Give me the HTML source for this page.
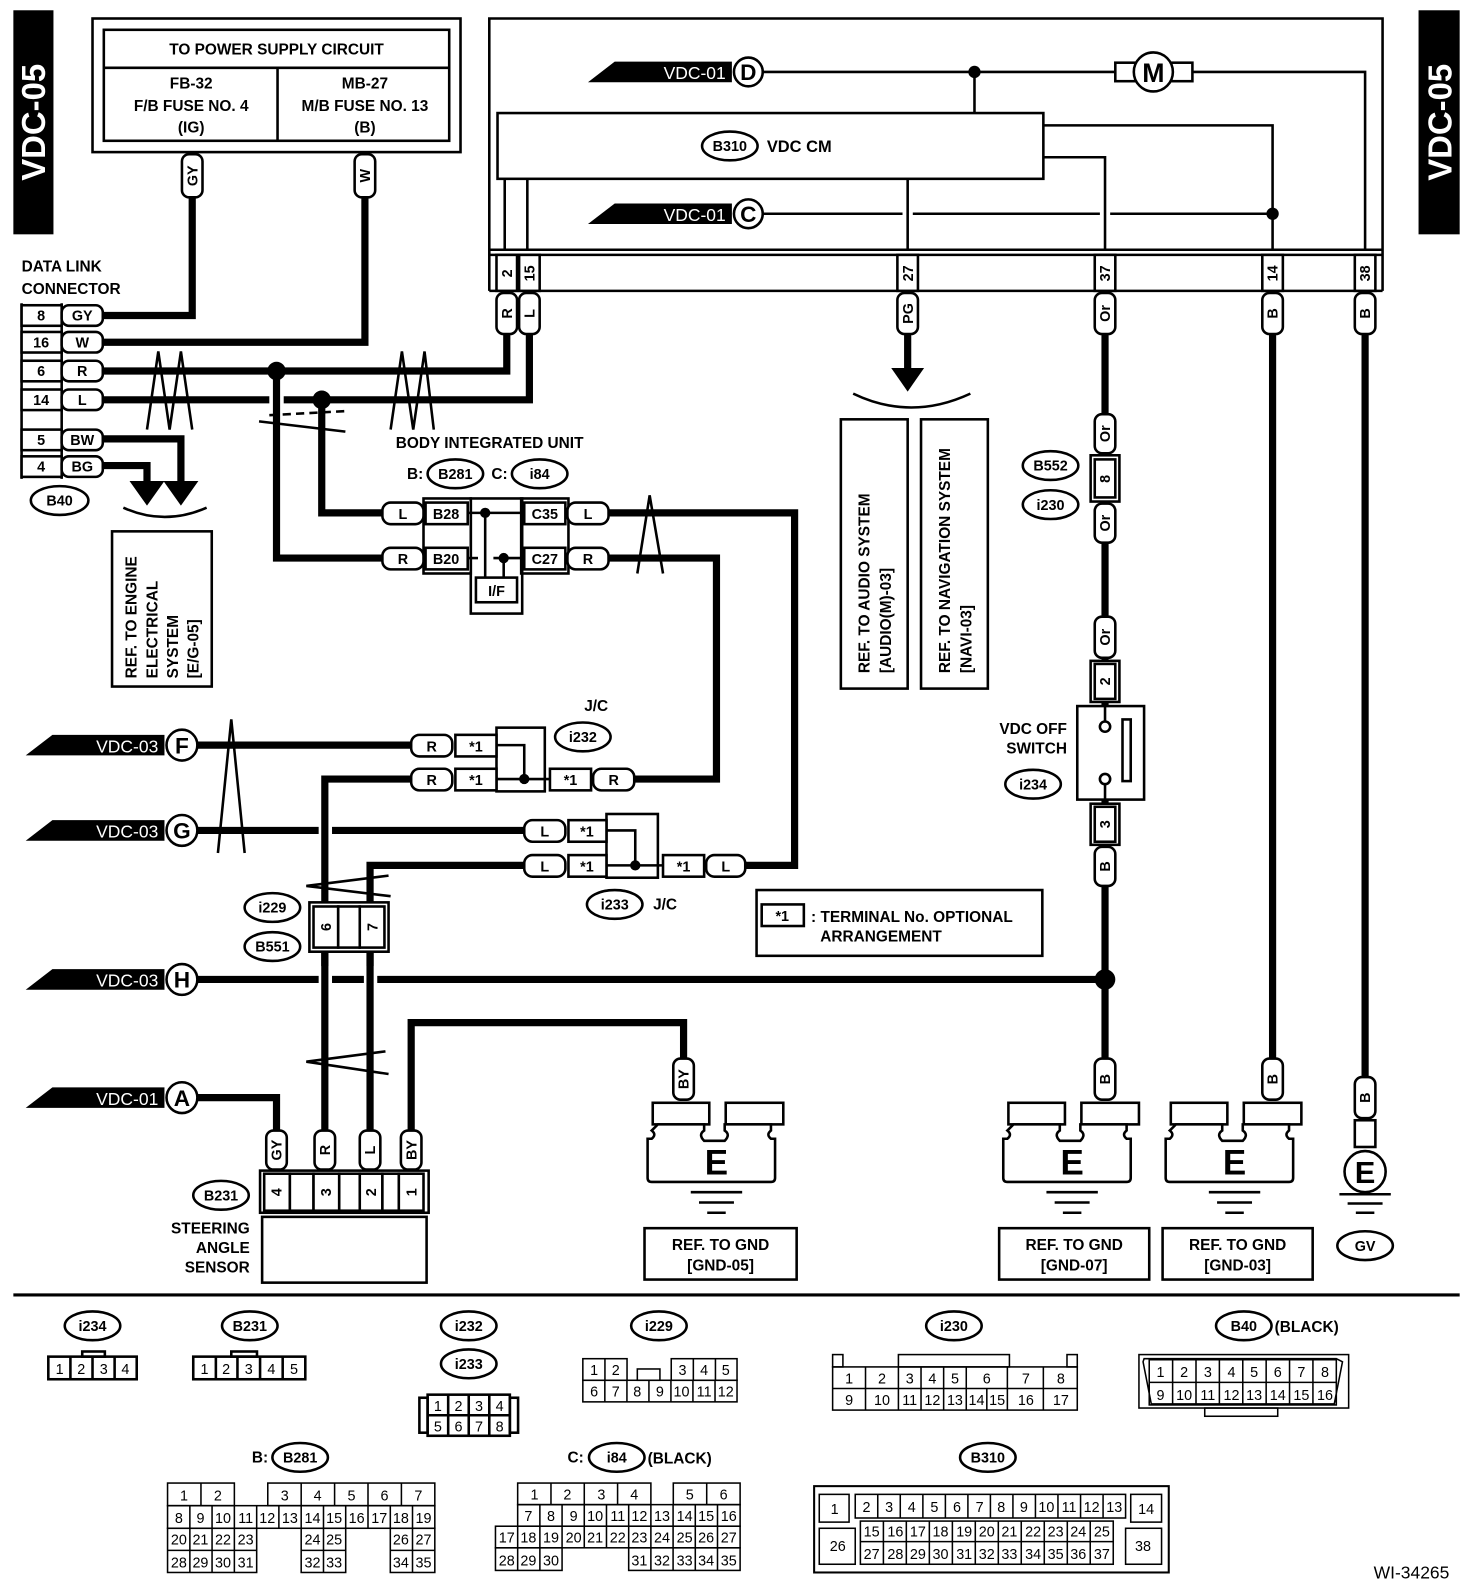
<!DOCTYPE html>
<html><head><meta charset="utf-8"><style>
html,body{margin:0;padding:0;background:#fff}
svg{display:block}
text{font-family:"Liberation Sans",Arial,sans-serif;fill:#000}
.b{font-weight:bold}
.w{fill:#fff}
</style></head><body>
<svg width="1472" height="1592" viewBox="0 0 1432 1549" preserveAspectRatio="none" xmlns="http://www.w3.org/2000/svg">
<defs>
<style>
.thin{stroke:#000;stroke-width:2.5;fill:none}
.wire{stroke:#000;stroke-width:7;fill:none}
.bx{stroke:#000;stroke-width:2.5;fill:#fff}
.cap{stroke:#000;stroke-width:2.5;fill:#fff}
.t13{font-size:14px;font-weight:bold}
.c{font-size:14px}
</style>
</defs>

<!-- side labels -->
<rect x="13" y="10" width="39" height="218" fill="#000"/>
<text class="b w" font-size="32" transform="translate(44,119) rotate(-90)" text-anchor="middle">VDC-05</text>
<rect x="1380" y="10" width="40" height="218" fill="#000"/>
<text class="b w" font-size="32" transform="translate(1412,119) rotate(-90)" text-anchor="middle">VDC-05</text>

<!-- power supply box -->
<rect x="90" y="18" width="358" height="130" class="thin"/>
<rect x="101" y="29" width="336" height="108" class="thin"/>
<line x1="101" y1="66" x2="437" y2="66" class="thin"/>
<line x1="270" y1="66" x2="270" y2="137" class="thin"/>
<text class="b" font-size="15" x="269" y="53" text-anchor="middle">TO POWER SUPPLY CIRCUIT</text>
<text class="b" font-size="15" x="186" y="86" text-anchor="middle">FB-32</text>
<text class="b" font-size="15" x="186" y="108" text-anchor="middle">F/B FUSE NO. 4</text>
<text class="b" font-size="15" x="186" y="129" text-anchor="middle">(IG)</text>
<text class="b" font-size="15" x="355" y="86" text-anchor="middle">MB-27</text>
<text class="b" font-size="15" x="355" y="108" text-anchor="middle">M/B FUSE NO. 13</text>
<text class="b" font-size="15" x="355" y="129" text-anchor="middle">(B)</text>

<!-- GY / W wires -->
<polyline points="187,192 187,307 100,307" class="wire"/>
<polyline points="355,192 355,333 100,333" class="wire"/>
<rect x="177" y="150" width="20" height="42" rx="7" class="cap"/>
<text class="t13" transform="translate(192,171) rotate(-90)" text-anchor="middle">GY</text>
<rect x="345" y="150" width="20" height="42" rx="7" class="cap"/>
<text class="t13" transform="translate(360,171) rotate(-90)" text-anchor="middle">W</text>

<!-- data link connector -->
<text class="b" font-size="15" x="21" y="264">DATA LINK</text>
<text class="b" font-size="15" x="21" y="286">CONNECTOR</text>
<line x1="21" y1="295" x2="21" y2="466" class="thin"/>
<line x1="60" y1="295" x2="60" y2="466" class="thin"/>
<rect x="21" y="297" width="39" height="20" class="bx"/><text class="t13" x="40" y="312" text-anchor="middle">8</text>
<rect x="21" y="323" width="39" height="20" class="bx"/><text class="t13" x="40" y="338" text-anchor="middle">16</text>
<rect x="21" y="351" width="39" height="20" class="bx"/><text class="t13" x="40" y="366" text-anchor="middle">6</text>
<rect x="21" y="379" width="39" height="20" class="bx"/><text class="t13" x="40" y="394" text-anchor="middle">14</text>
<rect x="21" y="418" width="39" height="20" class="bx"/><text class="t13" x="40" y="433" text-anchor="middle">5</text>
<rect x="21" y="444" width="39" height="20" class="bx"/><text class="t13" x="40" y="459" text-anchor="middle">4</text>

<!-- R,L,BW,BG wires -->
<polyline points="100,361 493,361 493,325" class="wire"/>
<polyline points="100,389 262,389" class="wire"/>
<polyline points="276,389 515,389 515,325" class="wire"/>
<polyline points="269,361 269,543 372,543" class="wire"/>
<polyline points="313,389 313,499 372,499" class="wire"/>
<circle cx="269" cy="361" r="9"/>
<circle cx="313" cy="389" r="9"/>
<polyline points="100,427 176,427 176,470" class="wire"/>
<polyline points="100,453 143,453 143,470" class="wire"/>
<polygon points="126,468 160,468 143,492"/>
<polygon points="159,468 193,468 176,492"/>
<path d="M120,494 Q160,512 201,494" class="thin"/>

<rect x="60" y="297" width="40" height="20" rx="7" class="cap"/><text class="t13" x="80" y="312" text-anchor="middle">GY</text>
<rect x="60" y="323" width="40" height="20" rx="7" class="cap"/><text class="t13" x="80" y="338" text-anchor="middle">W</text>
<rect x="60" y="351" width="40" height="20" rx="7" class="cap"/><text class="t13" x="80" y="366" text-anchor="middle">R</text>
<rect x="60" y="379" width="40" height="20" rx="7" class="cap"/><text class="t13" x="80" y="394" text-anchor="middle">L</text>
<rect x="60" y="418" width="40" height="20" rx="7" class="cap"/><text class="t13" x="80" y="433" text-anchor="middle">BW</text>
<rect x="60" y="444" width="40" height="20" rx="7" class="cap"/><text class="t13" x="80" y="459" text-anchor="middle">BG</text>
<ellipse cx="58" cy="487" rx="28" ry="14" class="thin"/><text class="t13" x="58" y="492" text-anchor="middle">B40</text>

<!-- twists -->
<polyline points="143,418 154,342 165,418 176,342 187,418" class="thin" stroke-width="2"/>
<polyline points="380,418 391,342 402,418 413,342 422,418" class="thin" stroke-width="2"/>
<line x1="252" y1="410" x2="336" y2="420" class="thin" stroke-width="2"/>
<line x1="262" y1="404" x2="336" y2="400" class="thin" stroke-width="2" stroke-dasharray="8,5"/>

<!-- engine ref -->
<rect x="109" y="517" width="97" height="151" class="thin"/>
<text class="b" font-size="15" transform="translate(133,660) rotate(-90)">REF. TO ENGINE</text>
<text class="b" font-size="15" transform="translate(153,660) rotate(-90)">ELECTRICAL</text>
<text class="b" font-size="15" transform="translate(173,660) rotate(-90)">SYSTEM</text>
<text class="b" font-size="15" transform="translate(193,660) rotate(-90)">[E/G-05]</text>

<!-- VDC CM -->
<polyline points="476,283 476,18 1345,18 1345,283" class="thin"/>
<line x1="476" y1="243" x2="1345" y2="243" class="thin"/>
<line x1="476" y1="248" x2="1345" y2="248" class="thin"/>
<line x1="476" y1="283" x2="1345" y2="283" class="thin"/>
<rect x="484" y="110" width="531" height="64" class="thin"/>
<ellipse cx="710" cy="142" rx="27" ry="14" class="thin"/><text class="t13" x="710" y="147" text-anchor="middle">B310</text>
<text class="b" font-size="16" x="746" y="148">VDC CM</text>

<polygon points="572,80 598,60 712,60 712,80"/>
<text class="w" font-size="17" x="706" y="77" text-anchor="end">VDC-01</text>
<circle cx="728" cy="70" r="14" class="bx"/><text class="b" font-size="22" x="728" y="78" text-anchor="middle">D</text>
<line x1="742" y1="70" x2="1085" y2="70" class="thin"/>
<circle cx="948" cy="70" r="6"/>
<line x1="948" y1="70" x2="948" y2="110" class="thin"/>
<rect x="1085" y="61" width="75" height="18" class="bx"/>
<circle cx="1122" cy="70" r="19" class="bx"/><text class="b" font-size="26" x="1122" y="80" text-anchor="middle">M</text>
<polyline points="1160,70 1328,70 1328,243" class="thin"/>
<polyline points="1015,122 1238,122 1238,243" class="thin"/>
<polyline points="1015,153 1075,153 1075,243" class="thin"/>

<polygon points="572,218 598,198 712,198 712,218"/>
<text class="w" font-size="17" x="706" y="215" text-anchor="end">VDC-01</text>
<circle cx="728" cy="208" r="14" class="bx"/><text class="b" font-size="22" x="728" y="216" text-anchor="middle">C</text>
<line x1="742" y1="208" x2="878" y2="208" class="thin"/>
<line x1="888" y1="208" x2="1070" y2="208" class="thin"/>
<line x1="1080" y1="208" x2="1238" y2="208" class="thin"/>
<circle cx="1238" cy="208" r="6"/>
<line x1="883" y1="174" x2="883" y2="243" class="thin"/>
<line x1="491" y1="174" x2="491" y2="243" class="thin"/>
<line x1="513" y1="174" x2="513" y2="243" class="thin"/>

<!-- pins -->
<rect x="483" y="248" width="20" height="35" class="bx"/><text class="t13" transform="translate(498,266) rotate(-90)" text-anchor="middle">2</text>
<rect x="505" y="248" width="20" height="35" class="bx"/><text class="t13" transform="translate(520,266) rotate(-90)" text-anchor="middle">15</text>
<rect x="873" y="248" width="20" height="35" class="bx"/><text class="t13" transform="translate(888,266) rotate(-90)" text-anchor="middle">27</text>
<rect x="1065" y="248" width="20" height="35" class="bx"/><text class="t13" transform="translate(1080,266) rotate(-90)" text-anchor="middle">37</text>
<rect x="1228" y="248" width="20" height="35" class="bx"/><text class="t13" transform="translate(1243,266) rotate(-90)" text-anchor="middle">14</text>
<rect x="1318" y="248" width="20" height="35" class="bx"/><text class="t13" transform="translate(1333,266) rotate(-90)" text-anchor="middle">38</text>

<!-- B wires right -->
<line x1="1238" y1="325" x2="1238" y2="1030" class="wire"/>
<line x1="1328" y1="325" x2="1328" y2="1048" class="wire"/>

<!-- PG -->
<line x1="883" y1="325" x2="883" y2="362" class="wire"/>
<polygon points="867,358 899,358 883,381"/>
<path d="M830,383 Q886,410 944,383" class="thin"/>
<rect x="818" y="408" width="65" height="262" class="thin"/>
<text class="b" font-size="15" transform="translate(846,655) rotate(-90)">REF. TO AUDIO SYSTEM</text>
<text class="b" font-size="15" transform="translate(867,655) rotate(-90)">[AUDIO(M)-03]</text>
<rect x="896" y="408" width="65" height="262" class="thin"/>
<text class="b" font-size="15" transform="translate(924,655) rotate(-90)">REF. TO NAVIGATION SYSTEM</text>
<text class="b" font-size="15" transform="translate(945,655) rotate(-90)">[NAVI-03]</text>

<!-- Or path -->
<line x1="1075" y1="325" x2="1075" y2="1030" class="wire"/>
<rect x="1061" y="443" width="28" height="45" class="bx"/>
<rect x="1065" y="447" width="20" height="37" class="bx"/><text class="t13" transform="translate(1080,466) rotate(-90)" text-anchor="middle">8</text>
<rect x="1061" y="643" width="28" height="40" class="bx"/>
<rect x="1065" y="646" width="20" height="34" class="bx"/><text class="t13" transform="translate(1080,663) rotate(-90)" text-anchor="middle">2</text>
<rect x="1048" y="687" width="65" height="91" class="bx"/>
<line x1="1075" y1="687" x2="1075" y2="702" class="thin"/>
<circle cx="1075" cy="707" r="5" class="bx"/>
<line x1="1075" y1="763" x2="1075" y2="778" class="thin"/>
<circle cx="1075" cy="758" r="5" class="bx"/>
<rect x="1092" y="700" width="8" height="60" class="thin"/>
<rect x="1061" y="782" width="28" height="40" class="bx"/>
<rect x="1065" y="785" width="20" height="34" class="bx"/><text class="t13" transform="translate(1080,802) rotate(-90)" text-anchor="middle">3</text>
<circle cx="1075" cy="953" r="10"/>
<ellipse cx="1022" cy="453" rx="27" ry="14" class="thin"/><text class="t13" x="1022" y="458" text-anchor="middle">B552</text>
<ellipse cx="1022" cy="491" rx="27" ry="14" class="thin"/><text class="t13" x="1022" y="496" text-anchor="middle">i230</text>
<text class="b" font-size="15" x="1038" y="714" text-anchor="end">VDC OFF</text>
<text class="b" font-size="15" x="1038" y="733" text-anchor="end">SWITCH</text>
<ellipse cx="1005" cy="763" rx="27" ry="14" class="thin"/><text class="t13" x="1005" y="768" text-anchor="middle">i234</text>

<!-- vertical capsules (after wires) -->
<g>
<rect x="483" y="285" width="20" height="40" rx="7" class="cap"/><text class="t13" transform="translate(498,305) rotate(-90)" text-anchor="middle">R</text>
<rect x="505" y="285" width="20" height="40" rx="7" class="cap"/><text class="t13" transform="translate(520,305) rotate(-90)" text-anchor="middle">L</text>
<rect x="873" y="285" width="20" height="40" rx="7" class="cap"/><text class="t13" transform="translate(888,305) rotate(-90)" text-anchor="middle">PG</text>
<rect x="1065" y="285" width="20" height="40" rx="7" class="cap"/><text class="t13" transform="translate(1080,305) rotate(-90)" text-anchor="middle">Or</text>
<rect x="1228" y="285" width="20" height="40" rx="7" class="cap"/><text class="t13" transform="translate(1243,305) rotate(-90)" text-anchor="middle">B</text>
<rect x="1318" y="285" width="20" height="40" rx="7" class="cap"/><text class="t13" transform="translate(1333,305) rotate(-90)" text-anchor="middle">B</text>
<rect x="1065" y="403" width="20" height="38" rx="7" class="cap"/><text class="t13" transform="translate(1080,422) rotate(-90)" text-anchor="middle">Or</text>
<rect x="1065" y="490" width="20" height="38" rx="7" class="cap"/><text class="t13" transform="translate(1080,509) rotate(-90)" text-anchor="middle">Or</text>
<rect x="1065" y="600" width="20" height="40" rx="7" class="cap"/><text class="t13" transform="translate(1080,620) rotate(-90)" text-anchor="middle">Or</text>
<rect x="1065" y="824" width="20" height="38" rx="7" class="cap"/><text class="t13" transform="translate(1080,843) rotate(-90)" text-anchor="middle">B</text>
<rect x="1065" y="1030" width="20" height="40" rx="7" class="cap"/><text class="t13" transform="translate(1080,1050) rotate(-90)" text-anchor="middle">B</text>
<rect x="1228" y="1030" width="20" height="40" rx="7" class="cap"/><text class="t13" transform="translate(1243,1050) rotate(-90)" text-anchor="middle">B</text>
<rect x="1318" y="1048" width="20" height="40" rx="7" class="cap"/><text class="t13" transform="translate(1333,1068) rotate(-90)" text-anchor="middle">B</text>
</g>

<!-- body integrated unit -->
<text class="b" font-size="15" x="385" y="436">BODY INTEGRATED UNIT</text>
<text class="b" font-size="15" x="396" y="466">B:</text>
<ellipse cx="443" cy="461" rx="27" ry="14" class="thin"/><text class="t13" x="443" y="466" text-anchor="middle">B281</text>
<text class="b" font-size="15" x="478" y="466">C:</text>
<ellipse cx="525" cy="461" rx="27" ry="14" class="thin"/><text class="t13" x="525" y="466" text-anchor="middle">i84</text>
<polyline points="592,499 773,499 773,842 725,842" class="wire"/>
<polyline points="592,543 697,543 697,758 617,758" class="wire"/>
<polyline points="620,558 632,482 645,558" class="thin" stroke-width="2"/>
<rect x="412" y="485" width="46" height="73" class="thin"/>
<rect x="507" y="485" width="46" height="73" class="thin"/>
<rect x="458" y="485" width="50" height="112" class="thin"/>
<rect x="414" y="489" width="41" height="21" class="bx"/><text class="t13" x="434" y="505" text-anchor="middle">B28</text>
<rect x="414" y="533" width="41" height="21" class="bx"/><text class="t13" x="434" y="549" text-anchor="middle">B20</text>
<rect x="510" y="489" width="40" height="21" class="bx"/><text class="t13" x="530" y="505" text-anchor="middle">C35</text>
<rect x="510" y="533" width="40" height="21" class="bx"/><text class="t13" x="530" y="549" text-anchor="middle">C27</text>
<line x1="455" y1="499" x2="510" y2="499" class="thin"/>
<line x1="455" y1="543" x2="465" y2="543" class="thin"/>
<line x1="480" y1="543" x2="510" y2="543" class="thin"/>
<line x1="472" y1="499" x2="472" y2="562" class="thin"/>
<line x1="490" y1="543" x2="490" y2="562" class="thin"/>
<circle cx="472" cy="499" r="5"/><circle cx="490" cy="543" r="5"/>
<rect x="463" y="562" width="40" height="24" class="bx"/><text class="t13" x="483" y="580" text-anchor="middle">I/F</text>
<rect x="372" y="489" width="40" height="21" rx="8" class="cap"/><text class="t13" x="392" y="505" text-anchor="middle">L</text>
<rect x="372" y="533" width="40" height="21" rx="8" class="cap"/><text class="t13" x="392" y="549" text-anchor="middle">R</text>
<rect x="552" y="489" width="40" height="21" rx="8" class="cap"/><text class="t13" x="572" y="505" text-anchor="middle">L</text>
<rect x="552" y="533" width="40" height="21" rx="8" class="cap"/><text class="t13" x="572" y="549" text-anchor="middle">R</text>

<!-- VDC-03 F/G/H and VDC-01 A -->
<polygon points="25,735 51,715 160,715 160,735"/><text class="w" font-size="17" x="154" y="732" text-anchor="end">VDC-03</text>
<circle cx="177" cy="725" r="15" class="bx"/><text class="b" font-size="22" x="177" y="733" text-anchor="middle">F</text>
<line x1="192" y1="725" x2="400" y2="725" class="wire"/>
<polygon points="25,818 51,798 160,798 160,818"/><text class="w" font-size="17" x="154" y="815" text-anchor="end">VDC-03</text>
<circle cx="177" cy="808" r="15" class="bx"/><text class="b" font-size="22" x="177" y="816" text-anchor="middle">G</text>
<line x1="192" y1="808" x2="310" y2="808" class="wire"/>
<line x1="323" y1="808" x2="510" y2="808" class="wire"/>
<polygon points="25,963 51,943 160,943 160,963"/><text class="w" font-size="17" x="154" y="960" text-anchor="end">VDC-03</text>
<circle cx="177" cy="953" r="15" class="bx"/><text class="b" font-size="22" x="177" y="961" text-anchor="middle">H</text>
<line x1="192" y1="953" x2="310" y2="953" class="wire"/>
<line x1="323" y1="953" x2="354" y2="953" class="wire"/>
<line x1="367" y1="953" x2="1075" y2="953" class="wire"/>
<polygon points="25,1078 51,1058 160,1058 160,1078"/><text class="w" font-size="17" x="154" y="1075" text-anchor="end">VDC-01</text>
<circle cx="177" cy="1068" r="15" class="bx"/><text class="b" font-size="22" x="177" y="1076" text-anchor="middle">A</text>
<polyline points="192,1068 269,1068 269,1100" class="wire"/>
<polyline points="212,830 225,700 238,830" class="thin" stroke-width="2"/>

<!-- R / L down -->
<polyline points="400,758 316,758 316,1100" class="wire"/>
<polyline points="510,842 360,842 360,1100" class="wire"/>
<polyline points="400,1100 400,995 665,995 665,1030" class="wire"/>
<polyline points="378,852 298,862 380,872" class="thin" stroke-width="2"/>
<polyline points="375,1023 298,1033 378,1045" class="thin" stroke-width="2"/>

<!-- i229 -->
<rect x="301" y="878" width="77" height="48" class="bx"/>
<rect x="305" y="882" width="24" height="40" class="bx"/><text class="t13" transform="translate(322,902) rotate(-90)" text-anchor="middle">6</text>
<rect x="329" y="882" width="21" height="40" class="bx"/>
<rect x="350" y="882" width="24" height="40" class="bx"/><text class="t13" transform="translate(367,902) rotate(-90)" text-anchor="middle">7</text>
<line x1="316" y1="926" x2="316" y2="940" class="wire"/>
<line x1="360" y1="926" x2="360" y2="940" class="wire"/>
<ellipse cx="265" cy="883" rx="27" ry="14" class="thin"/><text class="t13" x="265" y="888" text-anchor="middle">i229</text>
<ellipse cx="265" cy="921" rx="27" ry="14" class="thin"/><text class="t13" x="265" y="926" text-anchor="middle">B551</text>

<!-- J/C i232 -->
<text class="b" font-size="15" x="580" y="692" text-anchor="middle">J/C</text>
<ellipse cx="567" cy="717" rx="27" ry="14" class="thin"/><text class="t13" x="567" y="722" text-anchor="middle">i232</text>
<rect x="483" y="708" width="47" height="62" class="thin"/>
<polyline points="483,725 510,725 510,758" class="thin"/>
<line x1="483" y1="758" x2="535" y2="758" class="thin"/>
<circle cx="510" cy="758" r="5"/>
<rect x="400" y="715" width="40" height="21" rx="8" class="cap"/><text class="t13" x="420" y="731" text-anchor="middle">R</text>
<rect x="443" y="715" width="40" height="21" class="bx"/><text class="t13" x="463" y="731" text-anchor="middle">*1</text>
<rect x="400" y="748" width="40" height="21" rx="8" class="cap"/><text class="t13" x="420" y="764" text-anchor="middle">R</text>
<rect x="443" y="748" width="40" height="21" class="bx"/><text class="t13" x="463" y="764" text-anchor="middle">*1</text>
<rect x="535" y="748" width="40" height="21" class="bx"/><text class="t13" x="555" y="764" text-anchor="middle">*1</text>
<rect x="577" y="748" width="40" height="21" rx="8" class="cap"/><text class="t13" x="597" y="764" text-anchor="middle">R</text>

<!-- J/C i233 -->
<rect x="590" y="792" width="50" height="62" class="thin"/>
<polyline points="590,808 618,808 618,842" class="thin"/>
<line x1="590" y1="842" x2="645" y2="842" class="thin"/>
<circle cx="618" cy="842" r="5"/>
<rect x="510" y="798" width="40" height="21" rx="8" class="cap"/><text class="t13" x="530" y="814" text-anchor="middle">L</text>
<rect x="553" y="798" width="37" height="21" class="bx"/><text class="t13" x="571" y="814" text-anchor="middle">*1</text>
<rect x="510" y="832" width="40" height="21" rx="8" class="cap"/><text class="t13" x="530" y="848" text-anchor="middle">L</text>
<rect x="553" y="832" width="37" height="21" class="bx"/><text class="t13" x="571" y="848" text-anchor="middle">*1</text>
<rect x="645" y="832" width="40" height="21" class="bx"/><text class="t13" x="665" y="848" text-anchor="middle">*1</text>
<rect x="687" y="832" width="38" height="21" rx="8" class="cap"/><text class="t13" x="706" y="848" text-anchor="middle">L</text>
<ellipse cx="598" cy="880" rx="27" ry="14" class="thin"/><text class="t13" x="598" y="885" text-anchor="middle">i233</text>
<text class="b" font-size="15" x="647" y="885" text-anchor="middle">J/C</text>

<!-- legend -->
<rect x="736" y="866" width="278" height="64" class="thin"/>
<rect x="741" y="880" width="41" height="21" class="thin"/><text class="t13" x="761" y="896" text-anchor="middle">*1</text>
<text class="b" font-size="15" x="789" y="897">: TERMINAL No. OPTIONAL</text>
<text class="b" font-size="15" x="798" y="916">ARRANGEMENT</text>

<!-- steering sensor -->
<rect x="253" y="1139" width="164" height="41" class="thin"/>
<rect x="257" y="1142" width="25" height="36" class="bx"/><text class="t13" transform="translate(274,1160) rotate(-90)" text-anchor="middle">4</text>
<rect x="282" y="1142" width="23" height="36" class="bx"/>
<rect x="305" y="1142" width="25" height="36" class="bx"/><text class="t13" transform="translate(322,1160) rotate(-90)" text-anchor="middle">3</text>
<rect x="330" y="1142" width="20" height="36" class="bx"/>
<rect x="350" y="1142" width="22" height="36" class="bx"/><text class="t13" transform="translate(366,1160) rotate(-90)" text-anchor="middle">2</text>
<rect x="372" y="1142" width="16" height="36" class="bx"/>
<rect x="388" y="1142" width="24" height="36" class="bx"/><text class="t13" transform="translate(405,1160) rotate(-90)" text-anchor="middle">1</text>
<rect x="255" y="1184" width="160" height="64" class="thin"/>
<rect x="259" y="1100" width="20" height="38" rx="7" class="cap"/><text class="t13" transform="translate(274,1119) rotate(-90)" text-anchor="middle">GY</text>
<rect x="306" y="1100" width="20" height="38" rx="7" class="cap"/><text class="t13" transform="translate(321,1119) rotate(-90)" text-anchor="middle">R</text>
<rect x="350" y="1100" width="20" height="38" rx="7" class="cap"/><text class="t13" transform="translate(365,1119) rotate(-90)" text-anchor="middle">L</text>
<rect x="390" y="1100" width="20" height="38" rx="7" class="cap"/><text class="t13" transform="translate(405,1119) rotate(-90)" text-anchor="middle">BY</text>
<rect x="655" y="1030" width="20" height="40" rx="7" class="cap"/><text class="t13" transform="translate(670,1050) rotate(-90)" text-anchor="middle">BY</text>
<ellipse cx="215" cy="1163" rx="27" ry="14" class="thin"/><text class="t13" x="215" y="1168" text-anchor="middle">B231</text>
<text class="b" font-size="15" x="243" y="1200" text-anchor="end">STEERING</text>
<text class="b" font-size="15" x="243" y="1219" text-anchor="end">ANGLE</text>
<text class="b" font-size="15" x="243" y="1238" text-anchor="end">SENSOR</text>

<!-- ground terminals -->
<g>
<rect x="635" y="1073" width="55" height="21" class="bx"/><rect x="706" y="1073" width="56" height="21" class="bx"/>
<path d="M640,1094 h45 v6 q-6,4 0,10 h20 q6,-6 0,-10 v-6 h45 v6 q-5,4 0,8 h4 v38 q0,4 -4,4 h-116 q-4,0 -4,-4 v-38 h4 q5,-4 0,-8z" class="bx"/>
<text class="b" font-size="34" x="697" y="1143" text-anchor="middle">E</text>
<line x1="672" y1="1160" x2="722" y2="1160" class="thin"/><line x1="680" y1="1170" x2="714" y2="1170" class="thin"/><line x1="688" y1="1180" x2="706" y2="1180" class="thin"/>
<rect x="627" y="1195" width="148" height="50" class="thin"/>
<text class="b" font-size="15" x="701" y="1216" text-anchor="middle">REF. TO GND</text>
<text class="b" font-size="15" x="701" y="1236" text-anchor="middle">[GND-05]</text>
</g>
<g>
<rect x="981" y="1073" width="55" height="21" class="bx"/><rect x="1052" y="1073" width="56" height="21" class="bx"/>
<path d="M986,1094 h45 v6 q-6,4 0,10 h20 q6,-6 0,-10 v-6 h45 v6 q-5,4 0,8 h4 v38 q0,4 -4,4 h-116 q-4,0 -4,-4 v-38 h4 q5,-4 0,-8z" class="bx"/>
<text class="b" font-size="34" x="1043" y="1143" text-anchor="middle">E</text>
<line x1="1018" y1="1160" x2="1068" y2="1160" class="thin"/><line x1="1026" y1="1170" x2="1060" y2="1170" class="thin"/><line x1="1034" y1="1180" x2="1052" y2="1180" class="thin"/>
<rect x="972" y="1195" width="146" height="50" class="thin"/>
<text class="b" font-size="15" x="1045" y="1216" text-anchor="middle">REF. TO GND</text>
<text class="b" font-size="15" x="1045" y="1236" text-anchor="middle">[GND-07]</text>
</g>
<g>
<rect x="1139" y="1073" width="55" height="21" class="bx"/><rect x="1210" y="1073" width="56" height="21" class="bx"/>
<path d="M1144,1094 h45 v6 q-6,4 0,10 h20 q6,-6 0,-10 v-6 h45 v6 q-5,4 0,8 h4 v38 q0,4 -4,4 h-116 q-4,0 -4,-4 v-38 h4 q5,-4 0,-8z" class="bx"/>
<text class="b" font-size="34" x="1201" y="1143" text-anchor="middle">E</text>
<line x1="1176" y1="1160" x2="1226" y2="1160" class="thin"/><line x1="1184" y1="1170" x2="1218" y2="1170" class="thin"/><line x1="1192" y1="1180" x2="1210" y2="1180" class="thin"/>
<rect x="1131" y="1195" width="146" height="50" class="thin"/>
<text class="b" font-size="15" x="1204" y="1216" text-anchor="middle">REF. TO GND</text>
<text class="b" font-size="15" x="1204" y="1236" text-anchor="middle">[GND-03]</text>
</g>
<rect x="1318" y="1090" width="20" height="26" class="bx"/>
<circle cx="1328" cy="1140" r="20" class="bx"/><text class="b" font-size="30" x="1328" y="1151" text-anchor="middle">E</text>
<line x1="1303" y1="1162" x2="1353" y2="1162" class="thin"/><line x1="1311" y1="1171" x2="1345" y2="1171" class="thin"/><line x1="1319" y1="1180" x2="1337" y2="1180" class="thin"/>
<ellipse cx="1328" cy="1212" rx="27" ry="14" class="thin"/><text class="t13" x="1328" y="1217" text-anchor="middle">GV</text>

<!-- separator -->
<line x1="13" y1="1260" x2="1420" y2="1260" stroke="#000" stroke-width="3"/>

<!-- bottom connectors -->
<ellipse cx="90" cy="1290" rx="27" ry="14" class="thin"/><text class="t13" x="90" y="1295" text-anchor="middle">i234</text>
<g class="c">
<rect x="80" y="1315" width="22" height="5" class="thin" stroke-width="1.5"/>
<rect x="47" y="1320" width="86" height="22" class="thin" stroke-width="1.5"/>
<line x1="68.5" y1="1320" x2="68.5" y2="1342" class="thin" stroke-width="1.5"/><line x1="90" y1="1320" x2="90" y2="1342" class="thin" stroke-width="1.5"/><line x1="111.5" y1="1320" x2="111.5" y2="1342" class="thin" stroke-width="1.5"/>
<text x="58" y="1337" text-anchor="middle" font-size="14">1</text><text x="79" y="1337" text-anchor="middle" font-size="14">2</text><text x="101" y="1337" text-anchor="middle" font-size="14">3</text><text x="122" y="1337" text-anchor="middle" font-size="14">4</text>
</g>

<ellipse cx="243" cy="1290" rx="27" ry="14" class="thin"/><text class="t13" x="243" y="1295" text-anchor="middle">B231</text>
<rect x="225" y="1315" width="25" height="5" class="thin" stroke-width="1.5"/>
<rect x="188" y="1320" width="109" height="22" class="thin" stroke-width="1.5"/>
<line x1="210" y1="1320" x2="210" y2="1342" class="thin" stroke-width="1.5"/><line x1="231" y1="1320" x2="231" y2="1342" class="thin" stroke-width="1.5"/><line x1="253" y1="1320" x2="253" y2="1342" class="thin" stroke-width="1.5"/><line x1="275" y1="1320" x2="275" y2="1342" class="thin" stroke-width="1.5"/>
<text x="199" y="1337" text-anchor="middle" font-size="14">1</text><text x="220" y="1337" text-anchor="middle" font-size="14">2</text><text x="242" y="1337" text-anchor="middle" font-size="14">3</text><text x="264" y="1337" text-anchor="middle" font-size="14">4</text><text x="286" y="1337" text-anchor="middle" font-size="14">5</text>

<ellipse cx="456" cy="1290" rx="27" ry="14" class="thin"/><text class="t13" x="456" y="1295" text-anchor="middle">i232</text>
<ellipse cx="456" cy="1327" rx="27" ry="14" class="thin"/><text class="t13" x="456" y="1332" text-anchor="middle">i233</text>
<rect x="408" y="1360" width="8" height="34" class="thin" stroke-width="1.5"/><rect x="496" y="1360" width="8" height="34" class="thin" stroke-width="1.5"/>
<rect x="416" y="1357" width="80" height="40" class="thin" stroke-width="1.5"/>
<line x1="416" y1="1377" x2="496" y2="1377" class="thin" stroke-width="1.5"/>
<line x1="436" y1="1357" x2="436" y2="1397" class="thin" stroke-width="1.5"/><line x1="456" y1="1357" x2="456" y2="1397" class="thin" stroke-width="1.5"/><line x1="476" y1="1357" x2="476" y2="1397" class="thin" stroke-width="1.5"/>
<text x="426" y="1373" text-anchor="middle" font-size="14">1</text><text x="446" y="1373" text-anchor="middle" font-size="14">2</text><text x="466" y="1373" text-anchor="middle" font-size="14">3</text><text x="486" y="1373" text-anchor="middle" font-size="14">4</text>
<text x="426" y="1393" text-anchor="middle" font-size="14">5</text><text x="446" y="1393" text-anchor="middle" font-size="14">6</text><text x="466" y="1393" text-anchor="middle" font-size="14">7</text><text x="486" y="1393" text-anchor="middle" font-size="14">8</text>

<ellipse cx="641" cy="1290" rx="27" ry="14" class="thin"/><text class="t13" x="641" y="1295" text-anchor="middle">i229</text>
<g stroke="#000" stroke-width="1.5" fill="none">
<rect x="567" y="1322" width="43" height="21"/><line x1="588.5" y1="1322" x2="588.5" y2="1343"/>
<rect x="620" y="1332" width="22" height="11"/>
<rect x="653" y="1322" width="64" height="21"/><line x1="674.5" y1="1322" x2="674.5" y2="1343"/><line x1="696" y1="1322" x2="696" y2="1343"/>
<rect x="567" y="1343" width="150" height="21"/>
<line x1="588.4" y1="1343" x2="588.4" y2="1364"/><line x1="609.9" y1="1343" x2="609.9" y2="1364"/><line x1="631.3" y1="1343" x2="631.3" y2="1364"/><line x1="652.7" y1="1343" x2="652.7" y2="1364"/><line x1="674.1" y1="1343" x2="674.1" y2="1364"/><line x1="695.6" y1="1343" x2="695.6" y2="1364"/>
</g>
<text x="578" y="1338" text-anchor="middle" font-size="14">1</text><text x="599" y="1338" text-anchor="middle" font-size="14">2</text><text x="664" y="1338" text-anchor="middle" font-size="14">3</text><text x="685" y="1338" text-anchor="middle" font-size="14">4</text><text x="706" y="1338" text-anchor="middle" font-size="14">5</text>
<text x="578" y="1359" text-anchor="middle" font-size="14">6</text><text x="599" y="1359" text-anchor="middle" font-size="14">7</text><text x="620" y="1359" text-anchor="middle" font-size="14">8</text><text x="642" y="1359" text-anchor="middle" font-size="14">9</text><text x="663" y="1359" text-anchor="middle" font-size="14">10</text><text x="685" y="1359" text-anchor="middle" font-size="14">11</text><text x="706" y="1359" text-anchor="middle" font-size="14">12</text>

<ellipse cx="928" cy="1290" rx="27" ry="14" class="thin"/><text class="t13" x="928" y="1295" text-anchor="middle">i230</text>
<g stroke="#000" stroke-width="1.5" fill="none">
<rect x="810" y="1318" width="10" height="12"/><rect x="1038" y="1318" width="10" height="12"/><rect x="874" y="1318" width="108" height="12"/>
<rect x="810" y="1330" width="238" height="42"/><line x1="810" y1="1351" x2="1048" y2="1351"/>
<line x1="842" y1="1330" x2="842" y2="1372"/><line x1="874" y1="1330" x2="874" y2="1372"/><line x1="896" y1="1330" x2="896" y2="1372"/><line x1="918" y1="1330" x2="918" y2="1372"/><line x1="940" y1="1330" x2="940" y2="1372"/><line x1="960" y1="1351" x2="960" y2="1372"/><line x1="980" y1="1330" x2="980" y2="1372"/><line x1="1015" y1="1330" x2="1015" y2="1372"/>
</g>
<text x="826" y="1346" text-anchor="middle" font-size="14">1</text><text x="858" y="1346" text-anchor="middle" font-size="14">2</text><text x="885" y="1346" text-anchor="middle" font-size="14">3</text><text x="907" y="1346" text-anchor="middle" font-size="14">4</text><text x="929" y="1346" text-anchor="middle" font-size="14">5</text><text x="960" y="1346" text-anchor="middle" font-size="14">6</text><text x="998" y="1346" text-anchor="middle" font-size="14">7</text><text x="1032" y="1346" text-anchor="middle" font-size="14">8</text>
<text x="826" y="1367" text-anchor="middle" font-size="14">9</text><text x="858" y="1367" text-anchor="middle" font-size="14">10</text><text x="885" y="1367" text-anchor="middle" font-size="14">11</text><text x="907" y="1367" text-anchor="middle" font-size="14">12</text><text x="929" y="1367" text-anchor="middle" font-size="14">13</text><text x="950" y="1367" text-anchor="middle" font-size="14">14</text><text x="970" y="1367" text-anchor="middle" font-size="14">15</text><text x="998" y="1367" text-anchor="middle" font-size="14">16</text><text x="1032" y="1367" text-anchor="middle" font-size="14">17</text>

<ellipse cx="1210" cy="1290" rx="27" ry="14" class="thin"/><text class="t13" x="1210" y="1295" text-anchor="middle">B40</text>
<text class="b" font-size="15" x="1240" y="1296">(BLACK)</text>
<g stroke="#000" stroke-width="1.5" fill="none">
<rect x="1108" y="1318" width="204" height="52"/>
<path d="M1113,1322 L1300,1322 L1306,1325 L1298,1366 L1120,1366 L1112,1325 Z"/>
<rect x="1172" y="1370" width="71" height="8"/>
<rect x="1118" y="1323" width="182" height="44"/><line x1="1118" y1="1345" x2="1300" y2="1345"/>
<line x1="1140.75" y1="1323" x2="1140.75" y2="1367"/><line x1="1163.5" y1="1323" x2="1163.5" y2="1367"/><line x1="1186.25" y1="1323" x2="1186.25" y2="1367"/><line x1="1209" y1="1323" x2="1209" y2="1367"/><line x1="1231.75" y1="1323" x2="1231.75" y2="1367"/><line x1="1254.5" y1="1323" x2="1254.5" y2="1367"/><line x1="1277.25" y1="1323" x2="1277.25" y2="1367"/>
</g>
<text x="1129" y="1340" text-anchor="middle" font-size="14">1</text><text x="1152" y="1340" text-anchor="middle" font-size="14">2</text><text x="1175" y="1340" text-anchor="middle" font-size="14">3</text><text x="1198" y="1340" text-anchor="middle" font-size="14">4</text><text x="1220" y="1340" text-anchor="middle" font-size="14">5</text><text x="1243" y="1340" text-anchor="middle" font-size="14">6</text><text x="1266" y="1340" text-anchor="middle" font-size="14">7</text><text x="1289" y="1340" text-anchor="middle" font-size="14">8</text>
<text x="1129" y="1362" text-anchor="middle" font-size="14">9</text><text x="1152" y="1362" text-anchor="middle" font-size="14">10</text><text x="1175" y="1362" text-anchor="middle" font-size="14">11</text><text x="1198" y="1362" text-anchor="middle" font-size="14">12</text><text x="1220" y="1362" text-anchor="middle" font-size="14">13</text><text x="1243" y="1362" text-anchor="middle" font-size="14">14</text><text x="1266" y="1362" text-anchor="middle" font-size="14">15</text><text x="1289" y="1362" text-anchor="middle" font-size="14">16</text>

<!-- B281 -->
<text class="b" font-size="15" x="253" y="1423" text-anchor="middle">B:</text>
<ellipse cx="292" cy="1418" rx="27" ry="14" class="thin"/><text class="t13" x="292" y="1423" text-anchor="middle">B281</text>
<g stroke="#000" stroke-width="1.5" fill="none">
<rect x="163" y="1443" width="65" height="22"/><line x1="195.5" y1="1443" x2="195.5" y2="1465"/>
<rect x="260.5" y="1443" width="162.5" height="22"/><line x1="293" y1="1443" x2="293" y2="1465"/><line x1="325.5" y1="1443" x2="325.5" y2="1465"/><line x1="358" y1="1443" x2="358" y2="1465"/><line x1="390.5" y1="1443" x2="390.5" y2="1465"/>
<rect x="163" y="1465" width="260" height="22"/>
<line x1="184.7" y1="1465" x2="184.7" y2="1487"/><line x1="206.3" y1="1465" x2="206.3" y2="1487"/><line x1="228" y1="1465" x2="228" y2="1487"/><line x1="249.7" y1="1465" x2="249.7" y2="1487"/><line x1="271.3" y1="1465" x2="271.3" y2="1487"/><line x1="293" y1="1465" x2="293" y2="1487"/><line x1="314.7" y1="1465" x2="314.7" y2="1487"/><line x1="336.3" y1="1465" x2="336.3" y2="1487"/><line x1="358" y1="1465" x2="358" y2="1487"/><line x1="379.7" y1="1465" x2="379.7" y2="1487"/><line x1="401.3" y1="1465" x2="401.3" y2="1487"/>
<rect x="163" y="1487" width="86.7" height="43"/><line x1="163" y1="1508.5" x2="249.7" y2="1508.5"/><line x1="184.7" y1="1487" x2="184.7" y2="1530"/><line x1="206.3" y1="1487" x2="206.3" y2="1530"/><line x1="228" y1="1487" x2="228" y2="1530"/>
<rect x="293" y="1487" width="43.3" height="43"/><line x1="293" y1="1508.5" x2="336.3" y2="1508.5"/><line x1="314.7" y1="1487" x2="314.7" y2="1530"/>
<rect x="379.7" y="1487" width="43.3" height="43"/><line x1="379.7" y1="1508.5" x2="423" y2="1508.5"/><line x1="401.3" y1="1487" x2="401.3" y2="1530"/>
</g>
<g font-size="14" text-anchor="middle">
<text x="179" y="1460">1</text><text x="212" y="1460">2</text><text x="277" y="1460">3</text><text x="309" y="1460">4</text><text x="342" y="1460">5</text><text x="374" y="1460">6</text><text x="407" y="1460">7</text>
<text x="174" y="1482">8</text><text x="195" y="1482">9</text><text x="217" y="1482">10</text><text x="239" y="1482">11</text><text x="260" y="1482">12</text><text x="282" y="1482">13</text><text x="304" y="1482">14</text><text x="325" y="1482">15</text><text x="347" y="1482">16</text><text x="369" y="1482">17</text><text x="390" y="1482">18</text><text x="412" y="1482">19</text>
<text x="174" y="1503">20</text><text x="195" y="1503">21</text><text x="217" y="1503">22</text><text x="239" y="1503">23</text><text x="304" y="1503">24</text><text x="325" y="1503">25</text><text x="390" y="1503">26</text><text x="412" y="1503">27</text>
<text x="174" y="1525">28</text><text x="195" y="1525">29</text><text x="217" y="1525">30</text><text x="239" y="1525">31</text><text x="304" y="1525">32</text><text x="325" y="1525">33</text><text x="390" y="1525">34</text><text x="412" y="1525">35</text>
</g>

<!-- i84 -->
<text class="b" font-size="15" x="560" y="1423" text-anchor="middle">C:</text>
<ellipse cx="600" cy="1418" rx="27" ry="14" class="thin"/><text class="t13" x="600" y="1423" text-anchor="middle">i84</text>
<text class="b" font-size="15" x="630" y="1424">(BLACK)</text>
<g stroke="#000" stroke-width="1.5" fill="none">
<rect x="503.6" y="1443" width="129.6" height="21"/><line x1="536" y1="1443" x2="536" y2="1464"/><line x1="568.4" y1="1443" x2="568.4" y2="1464"/><line x1="600.8" y1="1443" x2="600.8" y2="1464"/>
<rect x="655" y="1443" width="65" height="21"/><line x1="687.5" y1="1443" x2="687.5" y2="1464"/>
<rect x="503.6" y="1464" width="216.4" height="21"/>
<rect x="482" y="1485" width="238" height="21"/>
<line x1="525.2" y1="1464" x2="525.2" y2="1506"/><line x1="546.8" y1="1464" x2="546.8" y2="1506"/><line x1="568.4" y1="1464" x2="568.4" y2="1506"/><line x1="590" y1="1464" x2="590" y2="1506"/><line x1="611.6" y1="1464" x2="611.6" y2="1506"/><line x1="633.2" y1="1464" x2="633.2" y2="1506"/><line x1="654.8" y1="1464" x2="654.8" y2="1506"/><line x1="676.4" y1="1464" x2="676.4" y2="1506"/><line x1="698" y1="1464" x2="698" y2="1506"/>
<line x1="503.6" y1="1485" x2="503.6" y2="1528"/>
<rect x="482" y="1506" width="64.8" height="22"/><line x1="525.2" y1="1506" x2="525.2" y2="1528"/>
<rect x="611.6" y="1506" width="108.4" height="22"/><line x1="633.2" y1="1506" x2="633.2" y2="1528"/><line x1="654.8" y1="1506" x2="654.8" y2="1528"/><line x1="676.4" y1="1506" x2="676.4" y2="1528"/><line x1="698" y1="1506" x2="698" y2="1528"/>
</g>
<g font-size="14" text-anchor="middle">
<text x="520" y="1459">1</text><text x="552" y="1459">2</text><text x="585" y="1459">3</text><text x="617" y="1459">4</text><text x="671" y="1459">5</text><text x="704" y="1459">6</text>
<text x="514" y="1480">7</text><text x="536" y="1480">8</text><text x="558" y="1480">9</text><text x="579" y="1480">10</text><text x="601" y="1480">11</text><text x="622" y="1480">12</text><text x="644" y="1480">13</text><text x="666" y="1480">14</text><text x="687" y="1480">15</text><text x="709" y="1480">16</text>
<text x="493" y="1501">17</text><text x="514" y="1501">18</text><text x="536" y="1501">19</text><text x="558" y="1501">20</text><text x="579" y="1501">21</text><text x="601" y="1501">22</text><text x="622" y="1501">23</text><text x="644" y="1501">24</text><text x="666" y="1501">25</text><text x="687" y="1501">26</text><text x="709" y="1501">27</text>
<text x="493" y="1523">28</text><text x="514" y="1523">29</text><text x="536" y="1523">30</text><text x="622" y="1523">31</text><text x="644" y="1523">32</text><text x="666" y="1523">33</text><text x="687" y="1523">34</text><text x="709" y="1523">35</text>
</g>

<!-- B310 -->
<ellipse cx="961" cy="1418" rx="27" ry="14" class="thin"/><text class="t13" x="961" y="1423" text-anchor="middle">B310</text>
<g stroke="#000" stroke-width="1.5" fill="none">
<rect x="792" y="1446" width="345" height="84" stroke-width="2"/>
<rect x="797" y="1454" width="29" height="27"/>
<rect x="797" y="1487" width="35" height="35"/>
<rect x="1100" y="1454" width="30" height="27"/>
<rect x="1095" y="1487" width="35" height="35"/>
<rect x="832" y="1454" width="263" height="23"/>
<line x1="853.9" y1="1454" x2="853.9" y2="1477"/><line x1="875.8" y1="1454" x2="875.8" y2="1477"/><line x1="897.8" y1="1454" x2="897.8" y2="1477"/><line x1="919.7" y1="1454" x2="919.7" y2="1477"/><line x1="941.6" y1="1454" x2="941.6" y2="1477"/><line x1="963.5" y1="1454" x2="963.5" y2="1477"/><line x1="985.4" y1="1454" x2="985.4" y2="1477"/><line x1="1007.3" y1="1454" x2="1007.3" y2="1477"/><line x1="1029.2" y1="1454" x2="1029.2" y2="1477"/><line x1="1051.2" y1="1454" x2="1051.2" y2="1477"/><line x1="1073.1" y1="1454" x2="1073.1" y2="1477"/>
<rect x="837" y="1480" width="246" height="42"/><line x1="837" y1="1500" x2="1083" y2="1500"/>
<line x1="859.4" y1="1480" x2="859.4" y2="1522"/><line x1="881.7" y1="1480" x2="881.7" y2="1522"/><line x1="904.1" y1="1480" x2="904.1" y2="1522"/><line x1="926.5" y1="1480" x2="926.5" y2="1522"/><line x1="948.8" y1="1480" x2="948.8" y2="1522"/><line x1="971.2" y1="1480" x2="971.2" y2="1522"/><line x1="993.5" y1="1480" x2="993.5" y2="1522"/><line x1="1015.9" y1="1480" x2="1015.9" y2="1522"/><line x1="1038.3" y1="1480" x2="1038.3" y2="1522"/><line x1="1060.6" y1="1480" x2="1060.6" y2="1522"/>
</g>
<g font-size="14" text-anchor="middle">
<text x="812" y="1473">1</text><text x="815" y="1509">26</text><text x="1115" y="1473">14</text><text x="1112" y="1509">38</text>
<text x="843" y="1471">2</text><text x="865" y="1471">3</text><text x="887" y="1471">4</text><text x="909" y="1471">5</text><text x="931" y="1471">6</text><text x="953" y="1471">7</text><text x="974" y="1471">8</text><text x="996" y="1471">9</text><text x="1018" y="1471">10</text><text x="1040" y="1471">11</text><text x="1062" y="1471">12</text><text x="1084" y="1471">13</text>
<text x="848" y="1495">15</text><text x="871" y="1495">16</text><text x="893" y="1495">17</text><text x="915" y="1495">18</text><text x="938" y="1495">19</text><text x="960" y="1495">20</text><text x="982" y="1495">21</text><text x="1005" y="1495">22</text><text x="1027" y="1495">23</text><text x="1049" y="1495">24</text><text x="1072" y="1495">25</text>
<text x="848" y="1517">27</text><text x="871" y="1517">28</text><text x="893" y="1517">29</text><text x="915" y="1517">30</text><text x="938" y="1517">31</text><text x="960" y="1517">32</text><text x="982" y="1517">33</text><text x="1005" y="1517">34</text><text x="1027" y="1517">35</text><text x="1049" y="1517">36</text><text x="1072" y="1517">37</text>
</g>

<text font-size="17" x="1410" y="1536" text-anchor="end">WI-34265</text>
</svg>
</body></html>
